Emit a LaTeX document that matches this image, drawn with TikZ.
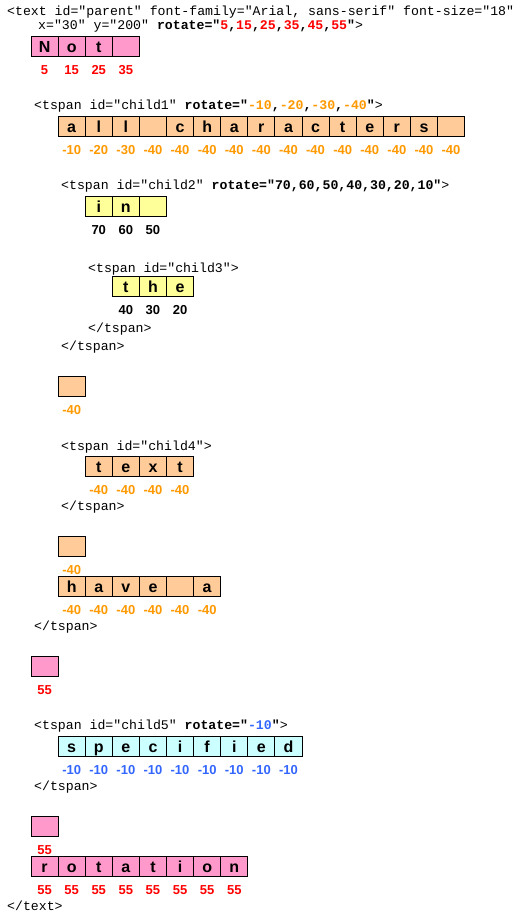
\documentclass[tikz,border=0pt]{standalone}
\usepackage{fontspec}
\setmainfont{Liberation Sans}
\setmonofont{Liberation Mono}
\definecolor{pinkc}{HTML}{FF99CC}
\definecolor{peach}{HTML}{FFCC99}
\definecolor{yel}{HTML}{FFFF99}
\definecolor{cyanc}{HTML}{CCFFFF}
\definecolor{redl}{HTML}{FF0000}
\definecolor{orgl}{HTML}{FF9900}
\definecolor{blul}{HTML}{3366FF}
\tikzset{
 cell/.style={draw=black, line width=1pt, minimum width=27.1pt, minimum height=20pt,
   inner sep=0pt, text height=14pt, text depth=2pt,
   font=\fontsize{16}{16}\selectfont\bfseries, anchor=center},
 lab/.style={inner sep=0pt, anchor=base, font=\fontsize{13}{13}\selectfont\bfseries},
 code/.style={inner sep=0pt, anchor=base west, font=\fontsize{13.2}{13.2}\selectfont\ttfamily}
}
\newcommand\cellrow[5]{\foreach \ch [count=\i from #4] in {#5} {\node[cell,fill=#2] (#1-\i) at ({44.55+27.1*\i},#3) {\ch};}}
\newcommand\labrow[5]{\foreach \v [count=\i from #4] in {#5} {\node[lab,text=#2] (#1-\i) at ({44.55+27.1*\i},{#3+28}) {\v};}}
\begin{document}
\begin{tikzpicture}[x=1pt,y=-1pt]
\useasboundingbox[fill=white] (0,0) rectangle (528,918);
% code lines
\node[code] (t1) at (7,15.5) {<text id="parent" font-family="Arial, sans-serif" font-size="18"};
\node[code] (t2) at (38,29.5) {x="30" y="200" \textbf{rotate="\textcolor{redl}{5},\textcolor{redl}{15},\textcolor{redl}{25},\textcolor{redl}{35},\textcolor{redl}{45},\textcolor{redl}{55}"}>};
\node[code] (t3) at (34,109.5) {<tspan id="child1" \textbf{rotate="\textcolor{orgl}{-10},\textcolor{orgl}{-20},\textcolor{orgl}{-30},\textcolor{orgl}{-40}"}>};
\node[code] (t4) at (61,189.5) {<tspan id="child2" \textbf{rotate="70,60,50,40,30,20,10"}>};
\node[code] (t5) at (88,272) {<tspan id="child3">};
\node[code] (t6) at (88,332) {</tspan>};
\node[code] (t7) at (61,350) {</tspan>};
\node[code] (t8) at (61,450) {<tspan id="child4">};
\node[code] (t9) at (61,510) {</tspan>};
\node[code] (t10) at (34,630) {</tspan>};
\node[code] (t11) at (34,729) {<tspan id="child5" \textbf{rotate="\textcolor{blul}{-10}"}>};
\node[code] (t12) at (34,790) {</tspan>};
\node[code] (t13) at (7,910) {</text>};
% cell rows
\cellrow{a}{pinkc}{46}{0}{N,o,t,{}}
\labrow{la}{redl}{46}{0}{5,15,25,35}
\cellrow{b}{peach}{126}{1}{a,l,l,{},c,h,a,r,a,c,t,e,r,s,{}}
\labrow{lb}{orgl}{126}{1}{-10,-20,-30,-40,-40,-40,-40,-40,-40,-40,-40,-40,-40,-40,-40}
\cellrow{c}{yel}{206}{2}{i,n,{}}
\labrow{lc}{black}{206}{2}{70,60,50}
\cellrow{d}{yel}{286}{3}{t,h,e}
\labrow{ld}{black}{286}{3}{40,30,20}
\cellrow{e}{peach}{386}{1}{{}}
\labrow{le}{orgl}{386}{1}{-40}
\cellrow{f}{peach}{466}{2}{t,e,x,t}
\labrow{lf}{orgl}{466}{2}{-40,-40,-40,-40}
\cellrow{g}{peach}{546}{1}{{}}
\labrow{lg}{orgl}{546}{1}{-40}
\cellrow{h}{peach}{586}{1}{h,a,v,e,{},a}
\labrow{lh}{orgl}{586}{1}{-40,-40,-40,-40,-40,-40}
\cellrow{i}{pinkc}{666}{0}{{}}
\labrow{li}{redl}{666}{0}{55}
\cellrow{j}{cyanc}{746}{1}{s,p,e,c,i,f,i,e,d}
\labrow{lj}{blul}{746}{1}{-10,-10,-10,-10,-10,-10,-10,-10,-10}
\cellrow{k}{pinkc}{826}{0}{{}}
\labrow{lk}{redl}{826}{0}{55}
\cellrow{m}{pinkc}{866}{0}{r,o,t,a,t,i,o,n}
\labrow{lm}{redl}{866}{0}{55,55,55,55,55,55,55,55}
\end{tikzpicture}
\end{document}
